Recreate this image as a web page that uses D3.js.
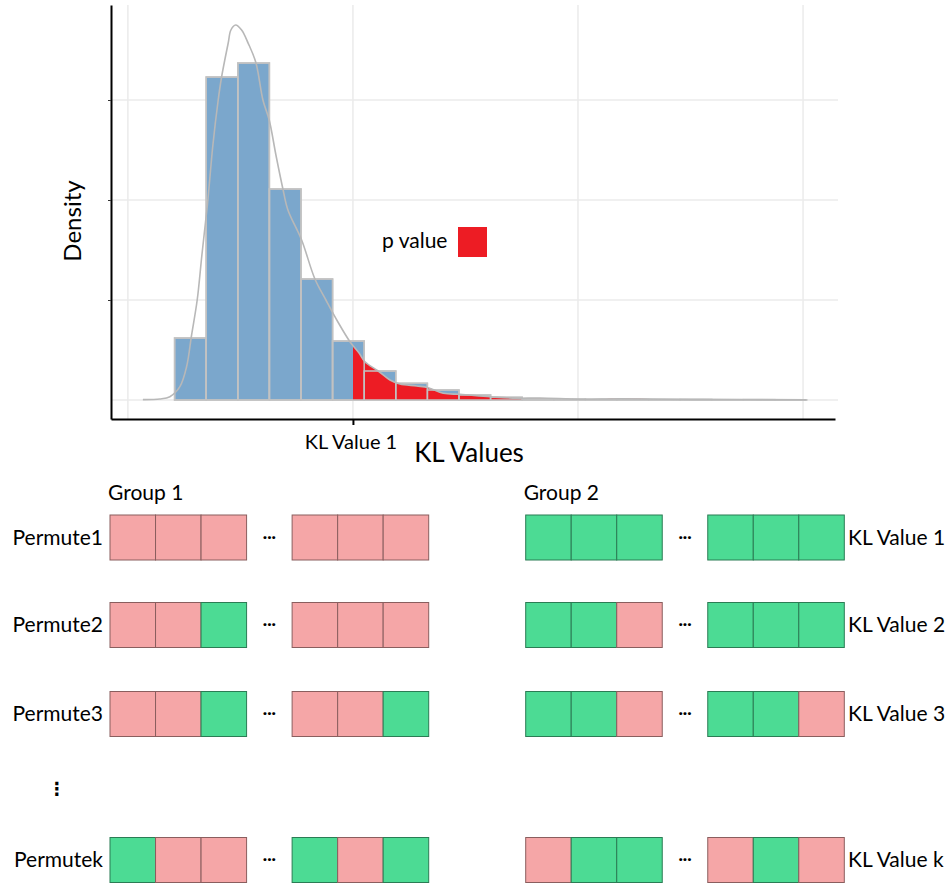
<!DOCTYPE html>
<html>
<head>
<meta charset="utf-8">
<script src="https://cdn.jsdelivr.net/npm/d3@7/dist/d3.min.js"></script>
<style>
  html, body { margin: 0; padding: 0; background: #fff; }
  svg { display: block; font-family: "Lato", "Open Sans", sans-serif; }
</style>
</head>
<body>
<svg id="chart" width="950" height="883"></svg>
<script>
// ---------------- DATA ----------------
// Histogram of permuted KL values (density units)
const binStart = 0.2076;
const binWidth = 0.1404;
const binDensity = [0.62, 3.23, 3.37, 2.11, 1.21, 0.59, 0.29, 0.167, 0.10, 0.05,
                    0.027, 0.012, 0.008, 0.006, 0.004, 0.003, 0.004, 0.002, 0.003, 0.002];
// Smoothed density curve (KL value, density)
const densityX = [0.0667, 0.1422, 0.1867, 0.2311, 0.2609, 0.2831, 0.308, 0.3289, 0.3533, 0.3778,
                  0.4013, 0.4164, 0.4458, 0.4578, 0.4787, 0.5053, 0.5347, 0.5689, 0.60, 0.628,
                  0.6578, 0.6889, 0.7111, 0.772, 0.8311, 0.88, 0.9333, 0.9867, 1.028, 1.0533,
                  1.1124, 1.1644, 1.2089, 1.2831, 1.3347, 1.4013, 1.4756, 1.6089, 1.7276, 1.8311,
                  2.0089, 2.1867, 2.5422, 3.0133];
const densityY = [0.004, 0.01, 0.033, 0.133, 0.333, 0.65, 1.0, 1.45, 1.95, 2.55,
                  3.0, 3.23, 3.57, 3.70, 3.75, 3.70, 3.567, 3.373, 3.0, 2.8,
                  2.45, 2.11, 1.9, 1.6, 1.21, 1.0, 0.78, 0.583, 0.467, 0.383,
                  0.29, 0.20, 0.16, 0.14, 0.123, 0.067, 0.057, 0.033, 0.017, 0.02,
                  0.008, 0.012, 0.006, 0.003];
const observedKL = 1.0;             // "KL Value 1"
const xGridValues = [0, 1, 2, 3];
const yGridValues = [0, 1, 2, 3];
const xTickLabel = "KL Value 1";
const xAxisTitle = "KL Values";
const yAxisTitle = "Density";
const legendLabel = "p value";

// Permutation schematic
const rowLabels = ["Permute1", "Permute2", "Permute3", "Permutek"];
const klLabels = ["KL Value 1", "KL Value 2", "KL Value 3", "KL Value k"];
const groupLabels = ["Group 1", "Group 2"];
// membership of each cell: "A" = group-1 sample (pink), "B" = group-2 sample (green)
const group1Cells = [
  ["A", "A", "A", "A", "A", "A"],
  ["A", "A", "B", "A", "A", "A"],
  ["A", "A", "B", "A", "A", "B"],
  ["B", "A", "A", "B", "A", "B"]
];
const group2Cells = [
  ["B", "B", "B", "B", "B", "B"],
  ["B", "B", "A", "B", "B", "B"],
  ["B", "B", "A", "B", "B", "A"],
  ["A", "B", "B", "A", "B", "A"]
];

// ---------------- LAYOUT / STYLE ----------------
const svg = d3.select("#chart");
const colors = { bar: "#7ba7cc", barStroke: "#c2c2c2", red: "#ed1c24", curve: "#b8b8b8",
                 grid: "#ebebeb", A: "#f5a6a7", B: "#4cdb94" };
const labelSize = 21;

const x = d3.scaleLinear().domain([-0.075, 3.142]).range([111, 835]);
const y = d3.scaleLinear().domain([-0.19, 3.95]).range([419, 5]);

const plot = svg.append("g");

// grid
plot.append("g").selectAll("line").data(yGridValues).join("line")
  .attr("x1", x.range()[0]).attr("x2", 838)
  .attr("y1", d => y(d)).attr("y2", d => y(d))
  .attr("stroke", colors.grid).attr("stroke-width", 1.5);
plot.append("g").selectAll("line").data(xGridValues).join("line")
  .attr("x1", d => x(d)).attr("x2", d => x(d))
  .attr("y1", y.range()[1]).attr("y2", y.range()[0])
  .attr("stroke", colors.grid).attr("stroke-width", 1.5);

const bins = binDensity.map((v, i) => ({ x0: binStart + i * binWidth, x1: binStart + (i + 1) * binWidth, v }));

// bars
plot.append("g").selectAll("rect").data(bins).join("rect")
  .attr("x", d => x(d.x0)).attr("width", d => x(d.x1) - x(d.x0))
  .attr("y", d => y(d.v)).attr("height", d => y(0) - y(d.v))
  .attr("fill", colors.bar).attr("stroke", colors.barStroke).attr("stroke-width", 1.5);

// density points
const dens = densityX.map((v, i) => [v, densityY[i]]);
const curve = d3.curveCatmullRom.alpha(0.5);

// red p-value region
svg.append("defs").append("clipPath").attr("id", "tail")
  .append("rect").attr("x", x(observedKL)).attr("y", 0)
  .attr("width", x.range()[1] - x(observedKL)).attr("height", y(0));
plot.append("path")
  .datum(dens)
  .attr("clip-path", "url(#tail)")
  .attr("fill", colors.red)
  .attr("d", d3.area().x(d => x(d[0])).y0(y(0)).y1(d => y(d[1])).curve(curve));

// bar outlines on top of red
plot.append("g").selectAll("rect").data(bins).join("rect")
  .attr("x", d => x(d.x0)).attr("width", d => x(d.x1) - x(d.x0))
  .attr("y", d => y(d.v)).attr("height", d => y(0) - y(d.v))
  .attr("fill", "none").attr("stroke", colors.barStroke).attr("stroke-width", 1.5);

// density curve
plot.append("path").datum(dens)
  .attr("fill", "none").attr("stroke", colors.curve).attr("stroke-width", 1.6)
  .attr("d", d3.line().x(d => x(d[0])).y(d => y(d[1])).curve(curve));

// axes
const yAxis = plot.append("g").attr("transform", `translate(${x.range()[0]},0)`)
  .call(d3.axisLeft(y).tickValues(yGridValues.slice(1)).tickSize(3).tickSizeOuter(0).tickFormat(""));
yAxis.select(".domain").attr("stroke", "#000").attr("stroke-width", 2);
yAxis.selectAll(".tick line").attr("stroke", "#333");

const xAxis = plot.append("g").attr("transform", `translate(0,${y.range()[0]})`)
  .call(d3.axisBottom(x).tickValues([observedKL]).tickSize(6).tickSizeOuter(0).tickFormat(() => xTickLabel));
xAxis.select(".domain").attr("stroke", "#000").attr("stroke-width", 2);
xAxis.selectAll(".tick line").attr("stroke", "#000").attr("stroke-width", 2);
xAxis.selectAll(".tick text").attr("y", 16).attr("font-size", 20)
  .attr("font-family", "Lato, sans-serif").attr("fill", "#000").attr("dx", -2.5);

// titles
svg.append("text").attr("x", 469).attr("y", 462).attr("text-anchor", "middle")
  .attr("font-size", 26).attr("fill", "#000").text(xAxisTitle);
svg.append("text").attr("transform", "translate(81,221) rotate(-90)").attr("text-anchor", "middle")
  .attr("font-size", 24).attr("fill", "#000").text(yAxisTitle);

// legend
svg.append("text").attr("x", 382).attr("y", 248).attr("font-size", labelSize).attr("fill", "#000").text(legendLabel);
svg.append("rect").attr("x", 458).attr("y", 227).attr("width", 29).attr("height", 30).attr("fill", colors.red);

// ---------------- permutation schematic ----------------
const slots = d3.range(7); // 3 cells, ellipsis, 3 cells
const gx = [
  d3.scaleBand().domain(slots).range([110, 428.7]),
  d3.scaleBand().domain(slots).range([525.7, 844.3])
];
const rowY = d3.scaleOrdinal().domain(d3.range(4)).range([515, 602.5, 691.5, 837.5]);
const cellH = 45;
const slotOf = j => (j < 3 ? j : j + 1);

[group1Cells, group2Cells].forEach((cells, gi) => {
  const g = svg.append("g");
  cells.forEach((row, ri) => {
    g.append("g").selectAll("rect").data(row).join("rect")
      .attr("x", (d, j) => gx[gi](slotOf(j)))
      .attr("y", rowY(ri))
      .attr("width", gx[gi].bandwidth())
      .attr("height", cellH)
      .attr("fill", d => colors[d])
      .attr("stroke", d => d3.color(colors[d]).darker(1.6))
      .attr("stroke-width", 1);
    g.append("text")
      .attr("x", gx[gi](3) + gx[gi].bandwidth() / 2)
      .attr("y", rowY(ri) + cellH / 2 + 4)
      .attr("text-anchor", "middle").attr("font-size", 16).attr("font-weight", "bold")
      .attr("fill", "#000").text("···");
  });
  g.append("text").attr("x", gx[gi].range()[0] - 2).attr("y", 500)
    .attr("font-size", labelSize).attr("fill", "#000").text(groupLabels[gi]);
});

// row labels
svg.append("g").selectAll("text").data(rowLabels).join("text")
  .attr("x", 103).attr("y", (d, i) => rowY(i) + cellH / 2 + 7)
  .attr("text-anchor", "end").attr("font-size", labelSize).attr("fill", "#000")
  .text(d => d);
svg.append("g").selectAll("text").data(klLabels).join("text")
  .attr("x", 848).attr("y", (d, i) => rowY(i) + cellH / 2 + 7)
  .attr("font-size", labelSize).attr("fill", "#000")
  .text(d => d);
// vertical ellipsis
svg.append("text").attr("x", 57).attr("y", 795).attr("text-anchor", "middle")
  .attr("font-size", 18).attr("font-weight", "bold").attr("font-family", "DejaVu Sans")
  .attr("fill", "#000").text("⋮");
</script>
</body>
</html>
